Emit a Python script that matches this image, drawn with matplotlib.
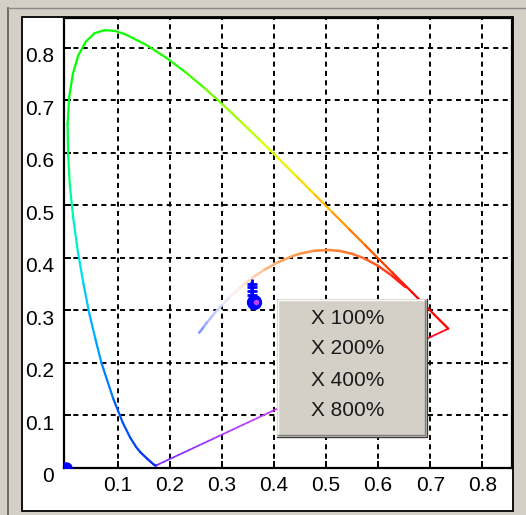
import numpy as np
import matplotlib
matplotlib.use("Agg")
from matplotlib import pyplot as plt
from matplotlib.collections import LineCollection
from matplotlib.colors import LinearSegmentedColormap, Normalize
from matplotlib.lines import Line2D
from matplotlib.patches import Rectangle
from matplotlib.transforms import ScaledTranslation

plt.rcParams["font.family"] = ["Liberation Sans Narrow", "Liberation Sans", "DejaVu Sans"]

W, H = 526, 515

# spectral locus, wavelength in nm
wavelength = [380, 400, 420, 430, 440, 450, 460, 465, 470, 475, 480, 485, 487.5, 490,
              492.5, 495, 497.5, 500, 502.5, 505, 507.5, 510, 512.5, 515, 517.5, 520,
              522.5, 525, 530, 535, 540, 545, 550, 555, 560, 565, 570, 575, 580, 585,
              590, 595, 600, 605, 610, 620, 630, 640, 650, 660, 680, 700]
locus_x = [0.1741, 0.1733, 0.1714, 0.1689, 0.1644, 0.1566, 0.1440, 0.1355, 0.1241,
           0.1096, 0.0913, 0.0687, 0.0572, 0.0454, 0.0340, 0.0235, 0.0147, 0.0082,
           0.0049, 0.0039, 0.0070, 0.0139, 0.0242, 0.0389, 0.0556, 0.0743, 0.0945,
           0.1142, 0.1547, 0.1929, 0.2296, 0.2658, 0.3016, 0.3373, 0.3731, 0.4087,
           0.4441, 0.4788, 0.5125, 0.5448, 0.5752, 0.6029, 0.6270, 0.6482, 0.6658,
           0.6915, 0.7079, 0.7190, 0.7260, 0.7300, 0.7334, 0.7347]
locus_y = [0.0050, 0.0048, 0.0051, 0.0069, 0.0109, 0.0177, 0.0297, 0.0399, 0.0578,
           0.0868, 0.1327, 0.2007, 0.2460, 0.2950, 0.3530, 0.4127, 0.4760, 0.5384,
           0.5980, 0.6548, 0.7065, 0.7502, 0.7855, 0.8120, 0.8280, 0.8338, 0.8325,
           0.8262, 0.8059, 0.7816, 0.7543, 0.7243, 0.6923, 0.6589, 0.6245, 0.5896,
           0.5547, 0.5202, 0.4866, 0.4544, 0.4242, 0.3965, 0.3725, 0.3514, 0.3340,
           0.3083, 0.2920, 0.2809, 0.2740, 0.2700, 0.2666, 0.2653]

# blackbody locus, colour temperature in K
cct = [1000, 1200, 1400, 1600, 1800, 2000, 2200, 2500, 2800, 3000, 3500, 4000, 4500,
       5000, 5500, 6000, 6500, 7500, 9000, 10000, 12000, 15000, 20000]
planck_x = [0.6528, 0.6251, 0.5985, 0.5732, 0.5493, 0.5267, 0.5056, 0.4770, 0.4515,
            0.4369, 0.4053, 0.3805, 0.3608, 0.3451, 0.3325, 0.3221, 0.3135, 0.2999,
            0.2864, 0.2807, 0.2711, 0.2637, 0.2565]
planck_y = [0.3444, 0.3674, 0.3858, 0.3993, 0.4082, 0.4133, 0.4152, 0.4137, 0.4086,
            0.4041, 0.3907, 0.3768, 0.3636, 0.3516, 0.3411, 0.3318, 0.3237, 0.3098,
            0.2952, 0.2884, 0.2769, 0.2667, 0.2577]

# measured points
meas_x = [0.358, 0.358, 0.358, 0.358]
meas_y = [0.351, 0.344, 0.337, 0.330]
last_x, last_y = 0.361, 0.316

x_ticks = [0.1, 0.2, 0.3, 0.4, 0.5, 0.6, 0.7, 0.8]
y_ticks = [0, 0.1, 0.2, 0.3, 0.4, 0.5, 0.6, 0.7, 0.8]
menu_items = ["X 100%", "X 200%", "X 400%", "X 800%"]


def fx(px):
    return px / W


def fy(py):
    return 1 - py / H


fig = plt.figure(figsize=(W / 100, H / 100), dpi=100, facecolor="#d4d0c8")

# window frame
fig.add_artist(Line2D([fx(7.5), fx(7.5)], [fy(7.5), fy(H)], color="#5a5a5a", lw=1.2))
fig.add_artist(Line2D([fx(7.5), fx(W)], [fy(7.5), fy(7.5)], color="#8a8a8a", lw=1.0))
fig.add_artist(Rectangle((fx(21.5), fy(510.5)), fx(512.5) - fx(21.5), fy(17.5) - fy(510.5),
                         transform=fig.transFigure, facecolor="white", edgecolor="black",
                         lw=1.3, zorder=0))

ax = fig.add_axes([fx(64), fy(468), fx(512) - fx(64), fy(17.5) - fy(468)])
ax.set_xlim(-0.003, 0.857)
ax.set_ylim(0, 0.858)
ax.set_xticks(x_ticks)
ax.set_yticks(y_ticks)
ax.set_xticklabels([f"{v:g}" for v in x_ticks])
ax.set_yticklabels([f"{v:g}" for v in y_ticks])
for s in ax.spines.values():
    s.set_linewidth(1.6)
ax.tick_params(direction="in", length=5, width=1.4, labelsize=15, colors="black")
ax.tick_params(axis="y", pad=7)
ax.tick_params(axis="x", pad=6)
ax.grid(True, color="black", lw=1.4, linestyle=(0, (2.6, 2.2)))
ax.set_axisbelow(True)
for lab in ax.get_yticklabels():
    lab.set_transform(lab.get_transform() + ScaledTranslation(0, -0.07, fig.dpi_scale_trans))

# spectral locus coloured by wavelength
spec_cmap = LinearSegmentedColormap.from_list("spec", [
    (0.0, "#1020ff"), (0.25, "#0030ff"), (0.3125, "#0060ff"), (0.328, "#0090ff"),
    (0.344, "#00b8ff"), (0.36, "#00e8e8"), (0.375, "#00ff90"), (0.39, "#00ff40"),
    (0.406, "#00ff00"), (0.5, "#20ff00"), (0.53, "#80ff00"), (0.578, "#e8ff00"),
    (0.61, "#ffd000"), (0.64, "#ff9000"), (0.67, "#ff5000"), (0.72, "#ff0000"),
    (1.0, "#ff0000")])
pts = np.column_stack([locus_x, locus_y])
segs = np.stack([pts[:-1], pts[1:]], axis=1)
mid_wl = (np.array(wavelength[:-1]) + np.array(wavelength[1:])) / 2
lc = LineCollection(segs, colors=spec_cmap(Normalize(380, 700)(mid_wl)), lw=1.6,
                    zorder=3, capstyle="round", joinstyle="round")
ax.add_collection(lc)

# line of purples
purple_cmap = LinearSegmentedColormap.from_list("purp", ["#7a2cff", "#c040ff", "#ff00c0", "#ff0000"])
t = np.linspace(0, 1, 60)
px_ = locus_x[0] + (locus_x[-1] - locus_x[0]) * t
py_ = locus_y[0] + (locus_y[-1] - locus_y[0]) * t
ppts = np.column_stack([px_, py_])
pl = LineCollection(np.stack([ppts[:-1], ppts[1:]], axis=1),
                    colors=purple_cmap(t[:-1]), lw=1.3, zorder=3)
ax.add_collection(pl)

# blackbody locus
bb_cmap = LinearSegmentedColormap.from_list("bb", [
    (0.0, "#ff1010"), (0.08, "#ff4020"), (0.16, "#ff6a28"), (0.3, "#ff8a3a"),
    (0.42, "#ffa860"), (0.5, "#ffd0b0"), (0.6, "#fff4f4"), (0.7, "#d0d8ff"),
    (0.85, "#a0b0ff"), (1.0, "#7088ff")])
bpts = np.column_stack([planck_x, planck_y])
bsegs = np.stack([bpts[:-1], bpts[1:]], axis=1)
mid_t = np.log(np.array(cct[:-1]) * np.array(cct[1:])) / 2
bb_norm = Normalize(np.log(1000), np.log(20000))
bl = LineCollection(bsegs, colors=bb_cmap(bb_norm(mid_t)), lw=1.8, zorder=3,
                    capstyle="round", joinstyle="round")
ax.add_collection(bl)

# measured chromaticities
ax.plot(meas_x + [last_x], meas_y + [last_y], color="#0000ff", lw=2.5, marker="+",
        ms=7, mew=2, zorder=5)
ax.plot([last_x], [last_y], "o", color="#0000ff", ms=10, zorder=5)
ax.plot([last_x + 0.004], [last_y + 0.001], "o", color="#c040ff", ms=3, zorder=6)
ax.plot([0], [0], "o", color="#0000ff", ms=8, zorder=5, clip_on=True)

# zoom menu
x0, y0, x1, y1 = 277, 299, 427, 437
fig.add_artist(Rectangle((fx(x0), fy(y1)), fx(x1) - fx(x0), fy(y0) - fy(y1),
                         transform=fig.transFigure, facecolor="#d4d0c8", edgecolor="none", zorder=10))
fig.add_artist(Line2D([fx(x0 + 0.5), fx(x0 + 0.5), fx(x1)], [fy(y1), fy(y0 + 0.5), fy(y0 + 0.5)],
                      color="white", lw=1.0, zorder=11))
fig.add_artist(Line2D([fx(x0 + 1), fx(x1 - 2), fx(x1 - 2)], [fy(y1 - 2), fy(y1 - 2), fy(y0 + 1)],
                      color="#808080", lw=1.0, zorder=11))
fig.add_artist(Line2D([fx(x0), fx(x1 - 0.5), fx(x1 - 0.5)], [fy(y1 - 0.5), fy(y1 - 0.5), fy(y0)],
                      color="#404040", lw=1.0, zorder=11))
for i, item in enumerate(menu_items):
    fig.text(fx(311), fy(318 + 31 * i), item, fontsize=15, color="#1a1a1a",
             ha="left", va="center", zorder=12)

fig.savefig("out.png", dpi=100, facecolor=fig.get_facecolor())
